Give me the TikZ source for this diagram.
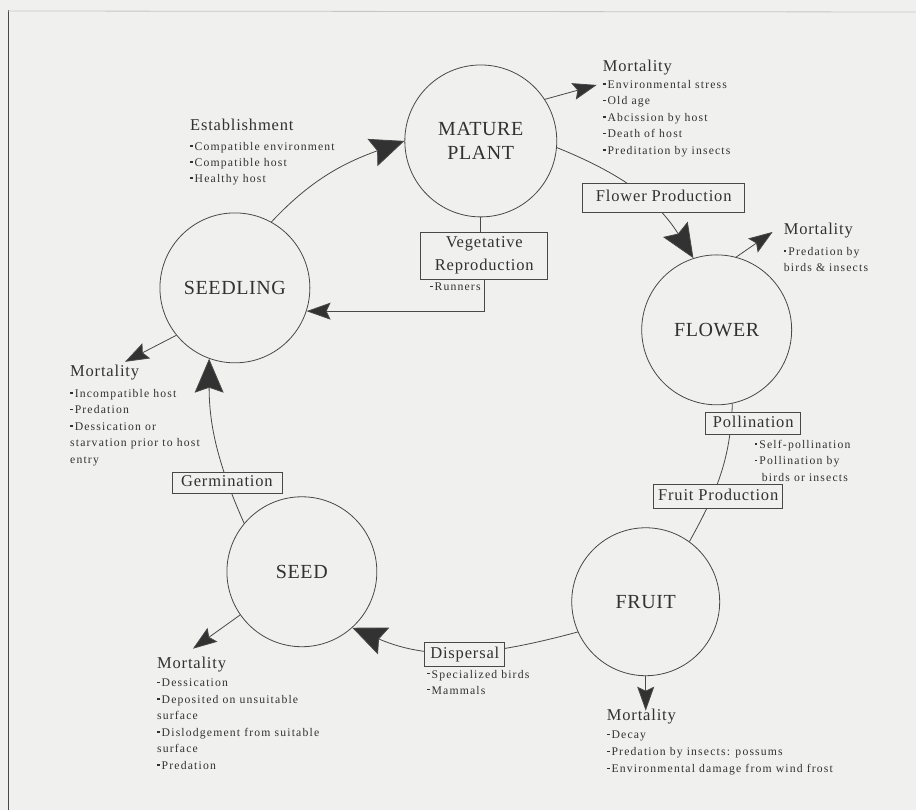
\documentclass[tikz,border=0pt]{standalone}
\usepackage{fontspec}
\setmainfont{Liberation Serif}
\newfontfamily\bigf[LetterSpace=3]{Liberation Serif}
\newfontfamily\labf[LetterSpace=5]{Liberation Serif}
\newfontfamily\itf[LetterSpace=10]{Liberation Serif}
\usetikzlibrary{arrows.meta}
\definecolor{bg}{RGB}{240,240,238}
\definecolor{ink}{RGB}{50,50,50}
\definecolor{ln}{RGB}{72,72,72}
\newcommand\bul{\raisebox{3.6pt}{\rule{2.6pt}{1.2pt}}\hspace{2pt}}
\pgfdeclarelayer{back}
\pgfdeclarelayer{lines}
\pgfsetlayers{back,lines,main}
\begin{document}
\begin{tikzpicture}[x=1pt,y=1pt,
  circ/.style={circle, draw=ln, line width=0.8pt, minimum size=150pt, inner sep=0pt, align=center, text=ink, font=\fontsize{20}{24}\bigf},
  lbox/.style={draw=ln, line width=0.7pt, fill=bg, inner sep=0pt, text=ink, font=\fontsize{16.5}{23}\labf, align=center},
  ttl/.style={anchor=base west, inner sep=0pt, text=ink, font=\fontsize{16.5}{20}\labf},
  itm/.style={anchor=north west, inner sep=0pt, align=left, text=ink, font=\fontsize{11.7}{16.5}\itf},
  conn/.style={draw=ln, line width=0.8pt},
  bigarr/.style={conn, -{Stealth[length=34pt, width=29pt, inset=5pt, fill=ink]}},
  smarr/.style={conn, -{Stealth[length=24pt, width=17pt, inset=4pt, fill=ink]}}
]
\begin{pgfonlayer}{back}
  \fill[bg] (0,0) rectangle (916,-810);
  \draw[ln, line width=0.9pt] (8,-10) -- (8,-810);
  \draw[gray!45, line width=0.8pt] (8,-11) -- (916,-12);
\end{pgfonlayer}
\useasboundingbox (0,0) rectangle (916,-810);

% stage circles
\node[circ, minimum size=152pt] (mature) at (481,-141) {MATURE\\PLANT};
\node[circ] (flower) at (717,-330) {FLOWER};
\node[circ, minimum size=148pt] (fruit) at (646,-602) {FRUIT};
\node[circ] (seed) at (302,-572) {SEED};
\node[circ] (seedling) at (235,-288) {SEEDLING};

% process boxes
\node[lbox, minimum width=162pt, minimum height=29pt, text height=11pt, text depth=3pt] (flprod) at (664,-197.5) {Flower Production};
\node[lbox, minimum width=127pt, minimum height=47pt] (veg) at (484.5,-255.5) {Vegetative\\Reproduction};
\node[lbox, minimum width=95pt, minimum height=22pt, text height=11pt, text depth=3pt] (poll) at (753.5,-423.5) {Pollination};
\node[lbox, minimum width=129pt, minimum height=24pt, text height=11pt, text depth=3pt] (frprod) at (718.5,-497) {Fruit Production};
\node[lbox, minimum width=80pt, minimum height=24pt, text height=11pt, text depth=3pt] (disp) at (465,-655) {Dispersal};
\node[lbox, minimum width=110pt, minimum height=20.5pt, text height=11pt, text depth=3pt] (germ) at (227,-483) {Germination};

% free ends of mortality arrows
\coordinate (m1) at (597,-85);
\coordinate (m2) at (773,-232);
\coordinate (m3) at (125,-362);
\coordinate (m4) at (193,-649);
\coordinate (m5) at (646,-711);

% connectors
\begin{pgfonlayer}{lines}
  \draw[bigarr] (seedling.61) to[out=47,in=200] (mature.180);
  \draw[bigarr] (mature.-5) to[out=-22,in=122] (flower.108);
  \draw[conn] (mature.south) -- (veg.north -| mature.south);
  \draw[smarr] (veg.south) |- (seedling.-18);
  \draw[conn] (flower.-78) to[out=-92,in=61] (fruit.54);
  \draw[bigarr] (fruit.204) to[out=195,in=-23] (seed.-48);
  \draw[bigarr] (seed.140) to[out=114,in=270] (seedling.250);
  \draw[smarr] (mature.33) -- (m1);
  \draw[smarr] (flower.75) -- (m2);
  \draw[smarr] (seedling.219) -- (m3);
  \draw[smarr] (seed.215) -- (m4);
  \draw[smarr] (fruit.south) -- (m5);
\end{pgfonlayer}

% texts
\node[ttl] (t1) at (603,-72) {Mortality};
\node[itm] (i1) at (603,-80) {\bul Environmental stress\\\bul Old age\\\bul Abcission by host\\\bul Death of host\\\bul Preditation by insects};

\node[ttl] (t2) at (784,-235) {Mortality};
\node[itm, font=\fontsize{11.7}{16}\itf] (i2) at (784,-247) {\bul Predation by\\birds \& insects};

\node[ttl] (t3) at (190,-131) {Establishment};
\node[itm, font=\fontsize{11.7}{16}\itf] (i3) at (190,-142) {\bul Compatible environment\\\bul Compatible host\\\bul Healthy host};

\node[itm] (i4) at (430,-283) {\bul Runners};

\node[ttl] (t5) at (70,-377) {Mortality};
\node[itm] (i5) at (70,-389) {\bul Incompatible host\\\bul Predation\\\bul Dessication or\\starvation prior to host\\entry};

\node[itm] (i6) at (755,-440) {\bul Self-pollination\\\bul Pollination by\\\hspace{7pt}birds or insects};

\node[ttl] (t7) at (157,-669) {Mortality};
\node[itm] (i7) at (157,-679) {\bul Dessication\\\bul Deposited on unsuitable\\surface\\\bul Dislodgement from suitable\\surface\\\bul Predation};

\node[itm, font=\fontsize{11.7}{16}\itf] (i8) at (427,-670) {\bul Specialized birds\\\bul Mammals};

\node[ttl] (t9) at (607,-721) {Mortality};
\node[itm, font=\fontsize{11.7}{17}\itf] (i9) at (607,-731) {\bul Decay\\\bul Predation by insects: possums\\\bul Environmental damage from wind frost};
\end{tikzpicture}
\end{document}
